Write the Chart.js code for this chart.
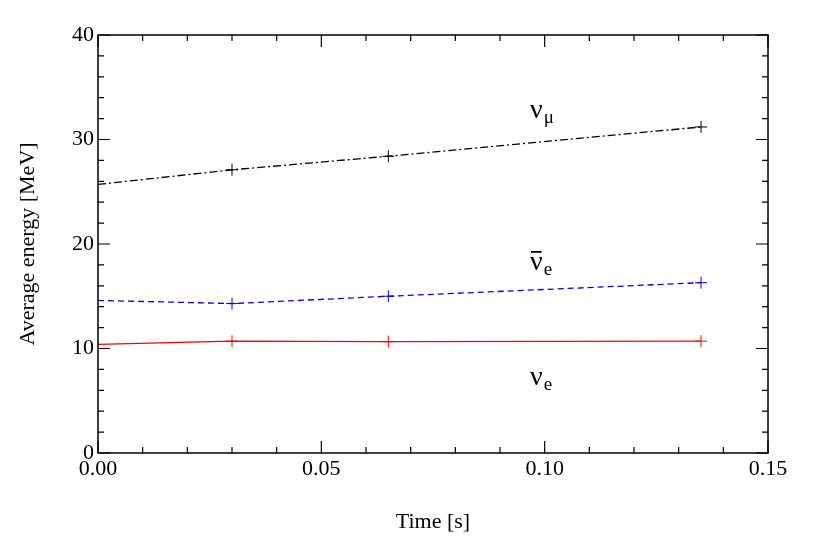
<!DOCTYPE html>
<html><head><meta charset="utf-8">
<script src="https://cdn.jsdelivr.net/npm/chart.js@4/dist/chart.umd.min.js"></script>
<style>html,body{margin:0;background:#fff}#w{width:830px;height:546px}</style></head>
<body><div id="w"><canvas id="c"></canvas></div>
<script>
const times = [0, 0.03, 0.065, 0.135];
const numu = [25.7, 27.1, 28.4, 31.2];
const nuebar = [14.6, 14.3, 15.0, 16.3];
const nue = [10.4, 10.7, 10.65, 10.7];
const xTicks = [0, 0.05, 0.10, 0.15];
const xTickLabels = ['0.00', '0.05', '0.10', '0.15'];
const yTicks = [0, 10, 20, 30, 40];
const F = '"Liberation Serif", "DejaVu Serif", serif';
const pts = a => times.map((t, i) => ({x: t, y: a[i]}));
const radii = times.map(t => t === 0 ? 0 : 6);
function ds(data, color, dash) {
  return {data: pts(data), borderColor: color, backgroundColor: color, borderWidth: 1.3,
    borderDash: dash, pointStyle: 'cross', pointRadius: radii, pointBorderWidth: 1,
    pointBorderColor: color, tension: 0};
}
const frame = {
  id: 'frame',
  afterDraw(ch) {
    const c = ch.ctx, a = ch.chartArea, xs = ch.scales.x, ys = ch.scales.y;
    c.save();
    c.strokeStyle = '#000'; c.lineWidth = 1.5;
    c.strokeRect(a.left, a.top, a.right - a.left, a.bottom - a.top);
    c.lineWidth = 1.2;
    for (let v = 0; v <= 0.1501; v += 0.01) {
      const p = xs.getPixelForValue(v);
      const major = Math.abs(v / 0.05 - Math.round(v / 0.05)) < 1e-6;
      const L = major ? 12 : 6;
      c.beginPath(); c.moveTo(p, a.bottom); c.lineTo(p, a.bottom - L);
      c.moveTo(p, a.top); c.lineTo(p, a.top + L); c.stroke();
    }
    for (let v = 0; v <= 40; v += 2) {
      const p = ys.getPixelForValue(v);
      const L = v % 10 === 0 ? 12 : 6;
      c.beginPath(); c.moveTo(a.left, p); c.lineTo(a.left + L, p);
      c.moveTo(a.right, p); c.lineTo(a.right - L, p); c.stroke();
    }
    c.fillStyle = '#000'; c.font = '22px ' + F;
    c.textAlign = 'center'; c.textBaseline = 'top';
    xTicks.forEach((v, i) => c.fillText(xTickLabels[i], xs.getPixelForValue(v), a.bottom + 5));
    c.textAlign = 'right'; c.textBaseline = 'middle';
    yTicks.forEach(v => c.fillText(String(v), a.left - 4, ys.getPixelForValue(v)));
    c.textAlign = 'center'; c.textBaseline = 'middle';
    c.fillText('Time [s]', (a.left + a.right) / 2, 522);
    c.save(); c.translate(28, (a.top + a.bottom) / 2); c.rotate(-Math.PI / 2);
    c.fillText('Average energy [MeV]', 0, 0); c.restore();
    function lab(x, y, sub, bar) {
      c.font = '28px ' + F; c.textAlign = 'left'; c.textBaseline = 'alphabetic';
      c.fillText('ν', x, y);
      const w = c.measureText('ν').width;
      if (bar) { c.fillRect(x + 1, y - 19, w - 2, 1.8); }
      c.font = '19px ' + F; c.fillText(sub, x + w + 1, y + 5);
    }
    lab(530, 118, 'μ', false);
    lab(530, 270, 'e', true);
    lab(530, 385, 'e', false);
    c.restore();
  }
};
new Chart(document.getElementById('c'), {
  type: 'line',
  data: {datasets: [
    ds(numu, '#000', [8, 3, 2, 3]),
    ds(nuebar, '#0000ff', [6, 4]),
    ds(nue, '#ff0000', [])
  ]},
  options: {
    responsive: true, maintainAspectRatio: false, animation: false,
    layout: {padding: {left: 98, right: 62, top: 35, bottom: 93}},
    plugins: {legend: {display: false}, tooltip: {enabled: false}},
    scales: {
      x: {type: 'linear', min: 0, max: 0.15, display: false},
      y: {type: 'linear', min: 0, max: 40, display: false}
    }
  },
  plugins: [frame]
});
</script></body></html>
